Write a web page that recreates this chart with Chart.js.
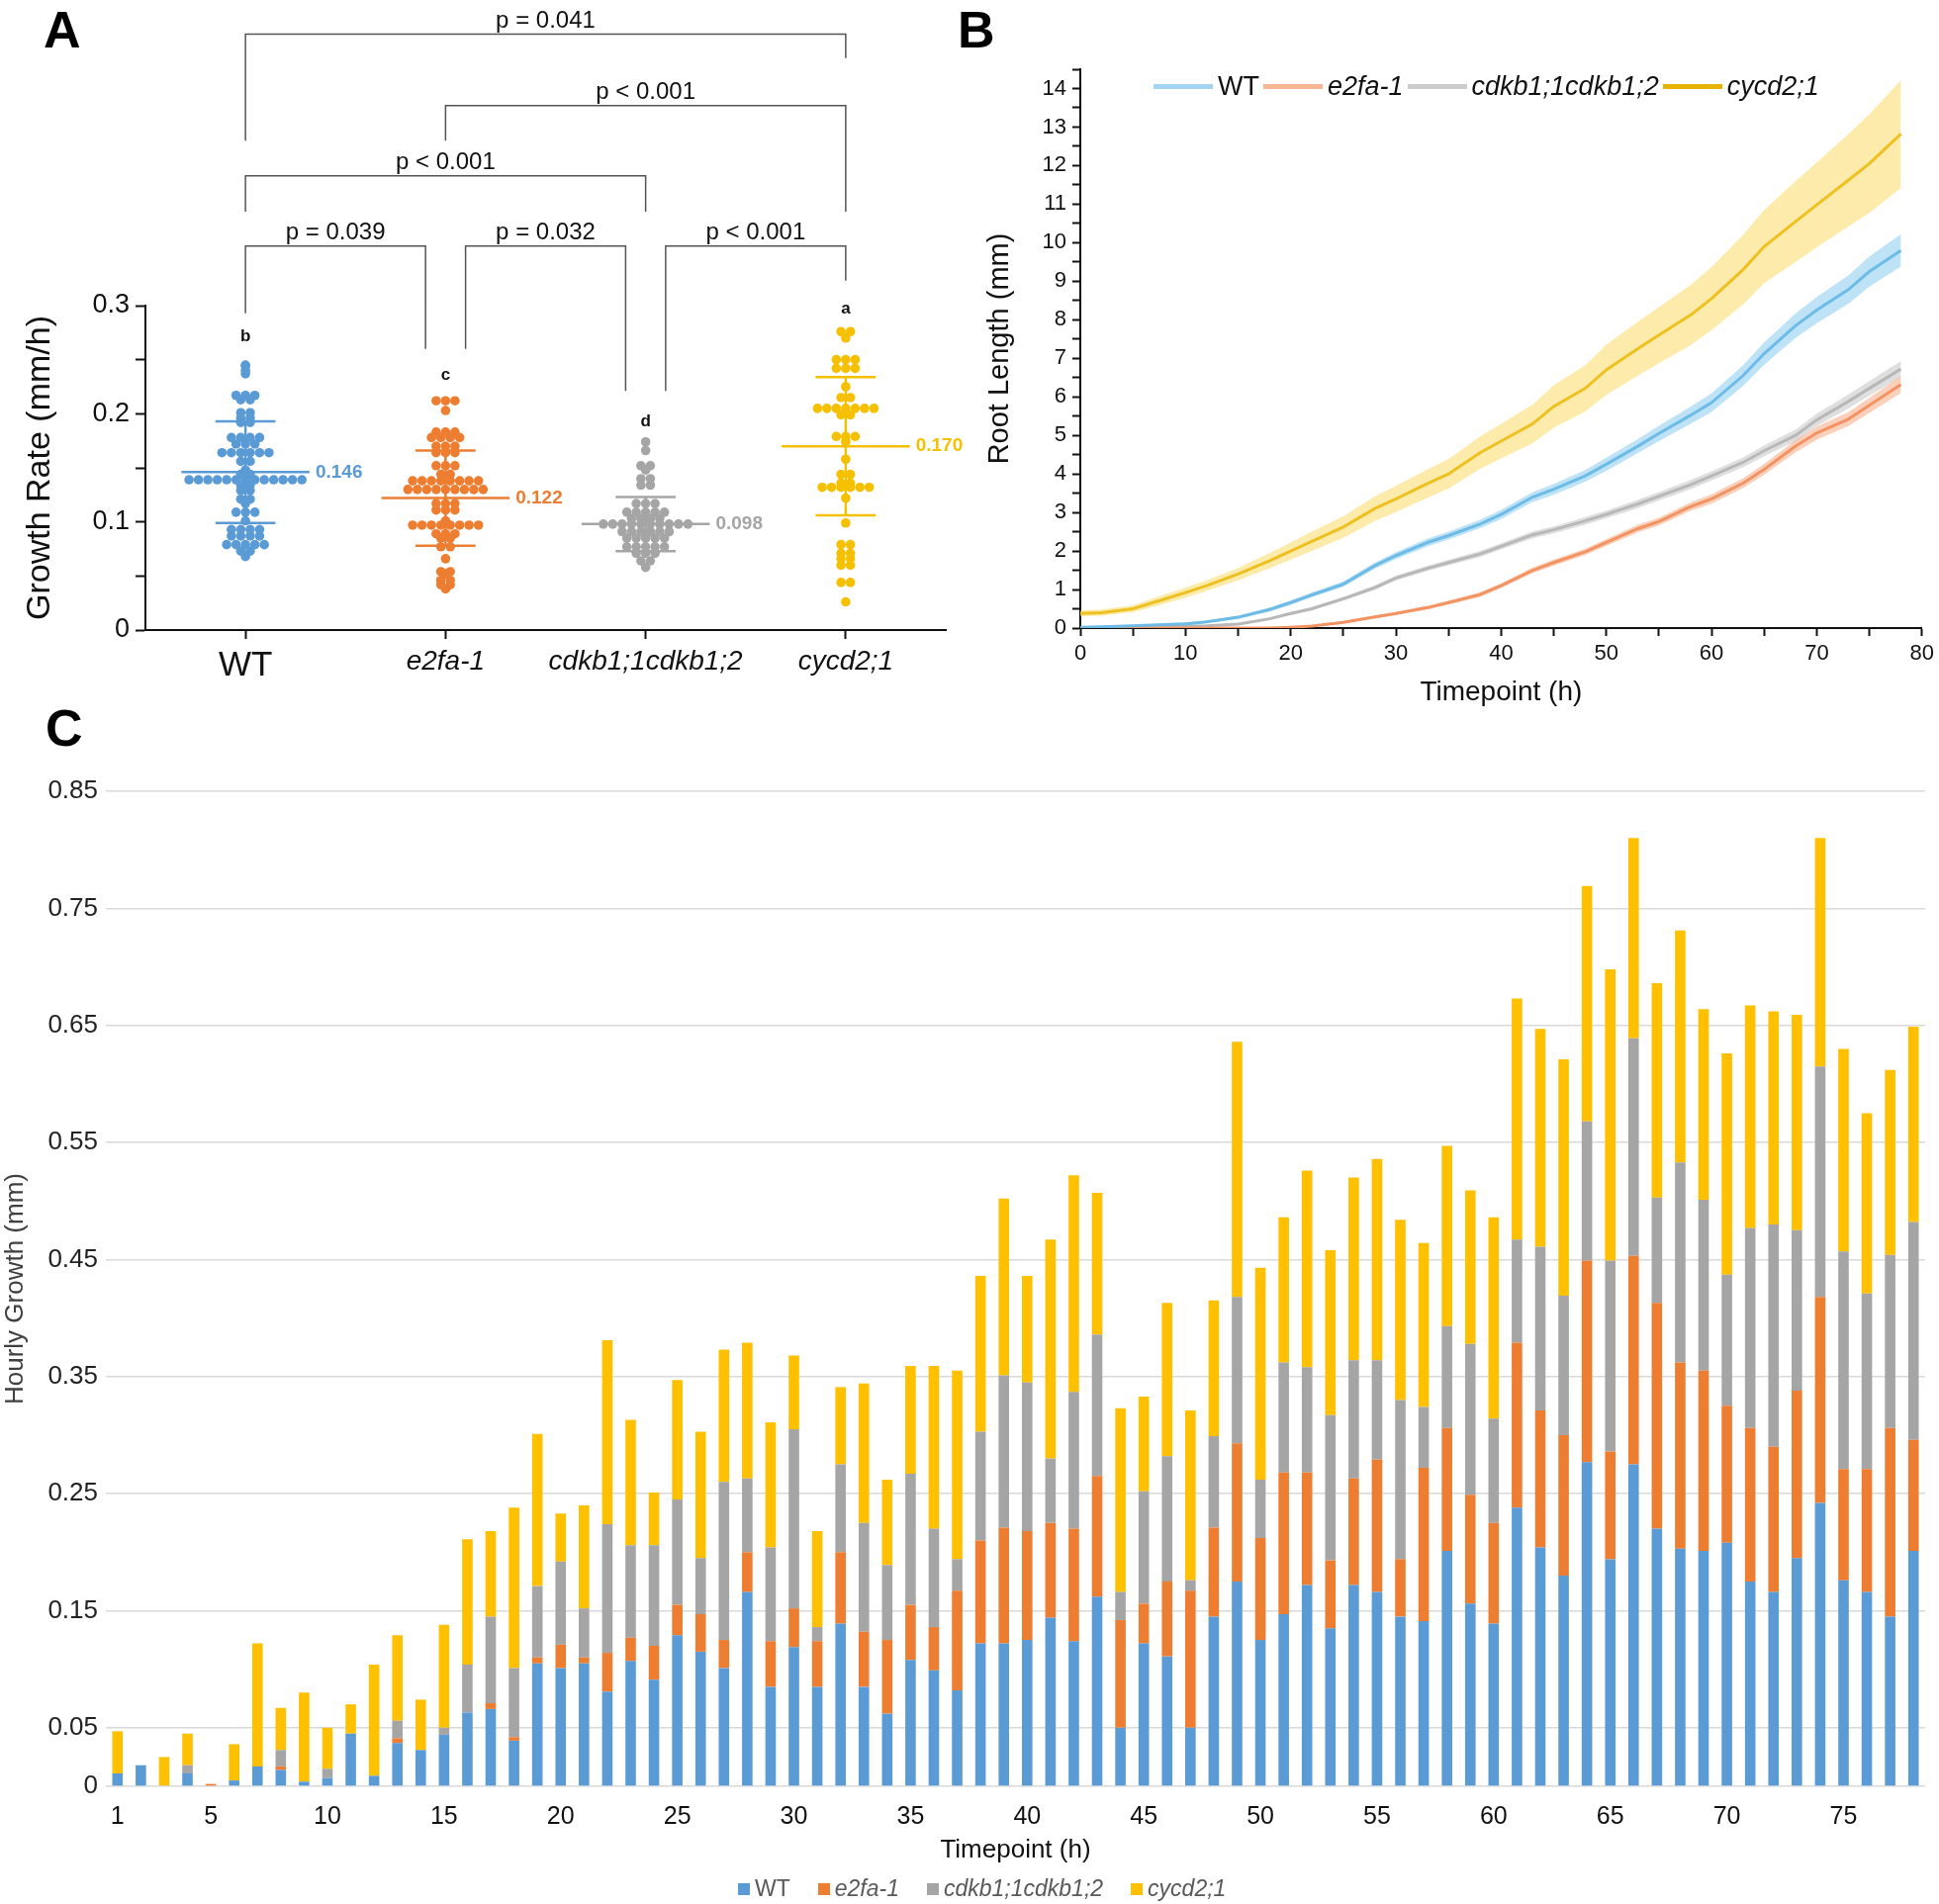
<!DOCTYPE html>
<html>
<head>
<meta charset="utf-8">
<script src="https://cdn.jsdelivr.net/npm/chart.js@4.4.1/dist/chart.umd.min.js"></script>
<style>
body { margin: 0; background: #fff; font-family: 'Liberation Sans', Arial, sans-serif; }
#page { position: relative; width: 1960px; height: 1925px; overflow: hidden; background: #fff; }
canvas { position: absolute; }
.tag { position: absolute; font-weight: bold; font-size: 52px; line-height: 1; color: #000; }
.legB { position: absolute; left: 1166px; top: 72px; display: flex; align-items: center; font-size: 27px; color: #111; }
.legB .ln { width: 60px; height: 5px; margin-right: 5px; }
.legB .tx { margin-right: 4px; }
.legC { position: absolute; left: 746px; top: 1896px; display: flex; align-items: center; font-size: 23px; color: #595959; }
.legC .sq { width: 12px; height: 12px; margin-right: 5px; }
.legC .tx { margin-right: 28px; }
i { font-style: italic; }
</style>
</head>
<body>
<div id="page">
  <div class="tag" style="left:44px;top:4px">A</div>
  <div class="tag" style="left:968px;top:4px">B</div>
  <div class="tag" style="left:46px;top:710px">C</div>

  <canvas id="chartA" width="990" height="700" style="left:0;top:0"></canvas>
  <canvas id="chartB" width="970" height="720" style="left:990px;top:0"></canvas>
  <canvas id="chartC" width="1960" height="1225" style="left:0;top:700px"></canvas>

  <div class="legB">
    <span class="ln" style="background:#a3d5f2"></span><span class="tx">WT</span>
    <span class="ln" style="background:#f8b793"></span><span class="tx"><i>e2fa-1</i></span>
    <span class="ln" style="background:#cccccc"></span><span class="tx"><i>cdkb1;1cdkb1;2</i></span>
    <span class="ln" style="background:#e6b400"></span><span class="tx"><i>cycd2;1</i></span>
  </div>

  <div class="legC">
    <span class="sq" style="background:#5b9bd5"></span><span class="tx">WT</span>
    <span class="sq" style="background:#ed7d31"></span><span class="tx"><i>e2fa-1</i></span>
    <span class="sq" style="background:#a5a5a5"></span><span class="tx"><i>cdkb1;1cdkb1;2</i></span>
    <span class="sq" style="background:#ffc000"></span><span class="tx"><i>cycd2;1</i></span>
  </div>
</div>

<script>
// ---------- panel A : growth rate per root ----------
const groups = ["WT", "e2fa-1", "cdkb1;1cdkb1;2", "cycd2;1"];

const wtRate = [0.245,0.244,0.240,0.237,0.217,0.217,0.217,0.213,0.213,0.201,0.201,0.196,0.196,0.192,0.192,
  0.178,0.178,0.178,0.178,0.172,0.172,0.172,0.164,0.164,0.164,0.164,0.164,0.164,0.156,0.156,0.148,0.144,0.144,
  0.139,0.139,0.139,0.139,0.139,0.139,0.139,0.139,0.139,0.139,0.139,0.139,0.139,0.134,0.134,0.129,0.129,
  0.121,0.121,0.117,0.109,0.109,0.109,0.101,0.093,0.093,0.093,0.093,0.087,0.087,0.087,0.087,
  0.079,0.079,0.079,0.079,0.079,0.073,0.073,0.068];
const e2faRate = [0.212,0.212,0.212,0.203,0.183,0.183,0.183,0.178,0.178,0.178,0.178,0.170,0.170,0.170,
  0.164,0.164,0.164,0.152,0.152,0.152,0.144,0.144,0.138,0.138,0.138,0.138,0.138,0.138,0.138,0.138,
  0.130,0.130,0.130,0.130,0.130,0.130,0.130,0.130,0.130,0.117,0.117,0.117,0.111,0.111,0.111,0.101,
  0.097,0.097,0.097,0.097,0.097,0.097,0.097,0.097,0.089,0.089,0.089,0.085,0.085,0.077,0.077,0.066,
  0.054,0.054,0.052,0.046,0.046,0.042,0.042,0.038];
const cdkbRate = [0.174,0.166,0.152,0.152,0.148,0.140,0.140,0.134,0.134,0.117,0.117,0.117,
  0.109,0.109,0.109,0.109,0.109,0.103,0.103,0.103,0.103,0.098,0.098,0.098,0.098,0.098,0.098,0.098,0.098,0.098,0.098,
  0.091,0.091,0.091,0.091,0.091,0.091,0.085,0.085,0.085,0.085,0.085,0.077,0.077,0.077,0.077,0.077,
  0.071,0.071,0.071,0.064,0.064,0.058];
const cycdRate = [0.276,0.276,0.270,0.250,0.250,0.250,0.242,0.242,0.242,0.225,0.215,0.215,
  0.205,0.205,0.205,0.205,0.205,0.205,0.205,0.199,0.199,0.179,0.179,0.179,0.174,0.158,0.144,0.144,
  0.136,0.136,0.132,0.132,0.132,0.132,0.132,0.132,0.122,0.099,0.079,0.079,0.071,0.071,0.066,0.066,
  0.060,0.060,0.044,0.044,0.026];

const rateMean = [0.146, 0.122, 0.098, 0.170];
const rateSd = [0.047, 0.044, 0.025, 0.064];
const groupLetters = ["b", "c", "d", "a"];
const letterLevel = [0.271, 0.236, 0.193, 0.297];

const rateTicks = [0, 0.05, 0.1, 0.15, 0.2, 0.25, 0.3];
const rateTickLabels = ["0", "", "0.1", "", "0.2", "", "0.3"];

// significance brackets (group positions and heights in data units)
const bracketText = ["p = 0.041", "p < 0.001", "p < 0.001", "p = 0.039", "p = 0.032", "p < 0.001"];
const bracketFrom = [1, 2, 1, 1, 2.1, 3.1];
const bracketTo = [4, 4, 3, 1.9, 2.9, 4];
const bracketLevel = [0.551, 0.485, 0.420, 0.355, 0.355, 0.355];
const bracketLeftEnd = [0.4525, 0.4525, 0.387, 0.293, 0.260, 0.221];
const bracketRightEnd = [0.529, 0.387, 0.387, 0.260, 0.221, 0.323];

// ---------- panel B : root length ----------
const hoursB = [0,2,5,8,10,12,15,18,20,22,25,28,30,33,35,38,40,43,45,48,50,53,55,58,60,63,65,68,70,73,75,78];
const wtLength = [0.02,0.03,0.06,0.09,0.11,0.16,0.28,0.48,0.66,0.86,1.14,1.62,1.88,2.22,2.40,2.70,2.95,3.40,3.60,3.95,4.25,4.72,5.05,5.52,5.85,6.55,7.12,7.85,8.25,8.78,9.25,9.80];
const wtLengthSe = [0.02,0.02,0.02,0.03,0.03,0.03,0.04,0.05,0.06,0.06,0.07,0.08,0.09,0.10,0.10,0.11,0.12,0.13,0.14,0.15,0.17,0.18,0.20,0.22,0.24,0.27,0.29,0.32,0.34,0.37,0.39,0.42];
const e2faLength = [0,0,0,0,0,0,0,0,0.02,0.05,0.15,0.29,0.38,0.53,0.66,0.87,1.10,1.50,1.70,1.98,2.22,2.58,2.76,3.15,3.35,3.76,4.12,4.72,5.06,5.42,5.78,6.32];
const e2faLengthSe = [0.01,0.01,0.01,0.01,0.01,0.01,0.01,0.01,0.02,0.02,0.03,0.04,0.04,0.05,0.05,0.06,0.06,0.07,0.08,0.08,0.09,0.10,0.10,0.11,0.12,0.13,0.14,0.16,0.17,0.18,0.20,0.22];
const cdkbLength = [0,0.01,0.02,0.03,0.05,0.06,0.10,0.24,0.38,0.50,0.76,1.05,1.30,1.55,1.70,1.92,2.12,2.42,2.55,2.78,2.95,3.22,3.42,3.72,3.95,4.30,4.60,5.00,5.40,5.88,6.22,6.72];
const cdkbLengthSe = [0.01,0.01,0.01,0.01,0.02,0.02,0.02,0.03,0.04,0.04,0.05,0.06,0.06,0.07,0.07,0.08,0.08,0.09,0.09,0.10,0.10,0.11,0.11,0.12,0.12,0.13,0.14,0.15,0.16,0.18,0.19,0.21];
const cycdLength = [0.38,0.40,0.50,0.75,0.92,1.10,1.40,1.75,2.00,2.25,2.62,3.10,3.35,3.75,4.00,4.55,4.85,5.30,5.75,6.22,6.70,7.25,7.60,8.12,8.55,9.30,9.90,10.55,10.98,11.62,12.05,12.82];
const cycdLengthSe = [0.08,0.08,0.09,0.12,0.13,0.14,0.16,0.20,0.22,0.25,0.28,0.32,0.34,0.37,0.38,0.42,0.45,0.50,0.55,0.60,0.65,0.70,0.73,0.78,0.82,0.90,0.95,1.05,1.10,1.20,1.28,1.40];

// ---------- panel C : hourly growth ----------
const timepoints = [1,2,3,4,5,6,7,8,9,10,11,12,13,14,15,16,17,18,19,20,21,22,23,24,25,26,27,28,29,30,
  31,32,33,34,35,36,37,38,39,40,41,42,43,44,45,46,47,48,49,50,51,52,53,54,55,56,57,58,59,60,
  61,62,63,64,65,66,67,68,69,70,71,72,73,74,75,76,77,78];
const wtGrowth = [0.011,0.018,0,0.011,0,0.005,0.017,0.014,0.004,0.007,0.045,0.009,0.037,0.031,0.044,0.063,0.066,0.039,0.105,0.101,
  0.105,0.081,0.107,0.091,0.129,0.115,0.101,0.166,0.085,0.119,0.085,0.139,0.085,0.062,0.108,0.099,0.082,0.122,0.122,0.125,
  0.144,0.124,0.162,0.050,0.122,0.111,0.050,0.145,0.175,0.125,0.147,0.172,0.135,0.172,0.166,0.145,0.141,0.201,0.156,0.139,
  0.238,0.204,0.180,0.277,0.194,0.275,0.220,0.203,0.201,0.208,0.175,0.166,0.195,0.242,0.176,0.166,0.145,0.201];
const e2faGrowth = [0,0,0,0,0.002,0,0,0.003,0,0,0,0,0.004,0,0,0,0.005,0.003,0.005,0.020,
  0.005,0.033,0.020,0.029,0.026,0.032,0.024,0.034,0.039,0.033,0.039,0.061,0.047,0.063,0.047,0.037,0.085,0.088,0.099,0.093,
  0.081,0.096,0.103,0.092,0.034,0.064,0.117,0.076,0.118,0.087,0.121,0.096,0.058,0.091,0.113,0.049,0.131,0.105,0.093,0.086,
  0.141,0.117,0.120,0.172,0.092,0.178,0.193,0.159,0.154,0.117,0.131,0.124,0.143,0.176,0.095,0.105,0.161,0.095];
const cdkbGrowth = [0,0,0,0.007,0,0,0,0.014,0,0.008,0,0,0.015,0,0.006,0.041,0.074,0.059,0.061,0.071,
  0.042,0.110,0.079,0.086,0.090,0.048,0.135,0.063,0.080,0.153,0.012,0.075,0.093,0.064,0.112,0.084,0.027,0.093,0.130,0.127,
  0.055,0.117,0.121,0.024,0.096,0.107,0.009,0.078,0.125,0.050,0.094,0.090,0.124,0.101,0.085,0.136,0.052,0.087,0.129,0.089,
  0.088,0.140,0.119,0.119,0.163,0.186,0.090,0.171,0.146,0.112,0.171,0.190,0.137,0.197,0.186,0.150,0.148,0.186];
const cycdGrowth = [0.036,0,0.025,0.027,0,0.031,0.105,0.036,0.076,0.035,0.025,0.095,0.073,0.043,0.088,0.107,0.073,0.137,0.130,0.041,
  0.088,0.157,0.107,0.045,0.102,0.108,0.113,0.116,0.107,0.063,0.082,0.066,0.119,0.073,0.092,0.139,0.161,0.133,0.151,0.091,
  0.187,0.185,0.121,0.157,0.081,0.131,0.145,0.116,0.218,0.181,0.124,0.168,0.141,0.156,0.172,0.154,0.140,0.154,0.131,0.172,
  0.206,0.186,0.202,0.201,0.249,0.171,0.183,0.198,0.163,0.189,0.190,0.182,0.184,0.195,0.173,0.154,0.158,0.167];
const growthTicks = [0, 0.05, 0.15, 0.25, 0.35, 0.45, 0.55, 0.65, 0.75, 0.85];

// ---------- shared styling ----------
const SANS = "'Liberation Sans', Arial, sans-serif";
const dotColors = ["#5b9bd5", "#ed7d31", "#a5a5a5", "#f5c000"];
const lineColors = ["#6cb9e4", "#f2915e", "#b8b8b8", "#e3b100"];
const bandColors = ["rgba(110,190,235,0.45)", "rgba(246,150,105,0.45)", "rgba(185,185,185,0.45)", "rgba(250,210,70,0.45)"];
const barColors = ["#5b9bd5", "#ed7d31", "#a5a5a5", "#ffc000"];
const dotGap = 0.047;

Chart.defaults.font.family = SANS;
Chart.defaults.color = "#111";

// place equal values side by side around the group centre
function spread(values, centre) {
  const rows = new Map();
  values.forEach(v => rows.set(v, (rows.get(v) || 0) + 1));
  const pts = [];
  rows.forEach((n, v) => {
    for (let i = 0; i < n; i++) pts.push({ x: centre + (i - (n - 1) / 2) * dotGap, y: v });
  });
  return pts;
}

function meanSdPath(g) {
  const c = g + 1, m = rateMean[g], s = rateSd[g];
  return [
    { x: c - 0.32, y: m }, { x: c + 0.32, y: m }, { x: c, y: null },
    { x: c - 0.15, y: m + s }, { x: c + 0.15, y: m + s }, { x: c, y: null },
    { x: c - 0.15, y: m - s }, { x: c + 0.15, y: m - s }, { x: c, y: null },
    { x: c, y: m - s }, { x: c, y: m + s }
  ];
}

const rateValues = [wtRate, e2faRate, cdkbRate, cycdRate];
const dsA = [];
rateValues.forEach((vals, g) => {
  dsA.push({
    type: "line", data: meanSdPath(g), showLine: true, spanGaps: false,
    borderColor: dotColors[g], borderWidth: 2.5, pointRadius: 0, order: 1
  });
  dsA.push({
    data: spread(vals, g + 1), backgroundColor: dotColors[g], borderWidth: 0,
    pointRadius: 4.8, order: 2
  });
});

const annotA = {
  id: "annotA",
  afterDraw(chart) {
    const { ctx, scales: { x, y } } = chart;
    ctx.save();
    ctx.strokeStyle = "#555";
    ctx.lineWidth = 1.5;
    ctx.fillStyle = "#111";
    ctx.font = "24px " + SANS;
    ctx.textAlign = "center";
    ctx.textBaseline = "bottom";
    bracketText.forEach((t, i) => {
      const x1 = x.getPixelForValue(bracketFrom[i]);
      const x2 = x.getPixelForValue(bracketTo[i]);
      const yl = y.getPixelForValue(bracketLevel[i]);
      ctx.beginPath();
      ctx.moveTo(x1, y.getPixelForValue(bracketLeftEnd[i]));
      ctx.lineTo(x1, yl);
      ctx.lineTo(x2, yl);
      ctx.lineTo(x2, y.getPixelForValue(bracketRightEnd[i]));
      ctx.stroke();
      ctx.fillText(t, (x1 + x2) / 2, yl - 1);
    });
    ctx.textBaseline = "middle";
    ctx.font = "bold 17px " + SANS;
    groupLetters.forEach((l, g) => {
      ctx.fillStyle = "#111";
      ctx.fillText(l, x.getPixelForValue(g + 1), y.getPixelForValue(letterLevel[g]));
    });
    ctx.textAlign = "left";
    ctx.font = "bold 19px " + SANS;
    rateMean.forEach((m, g) => {
      ctx.fillStyle = dotColors[g];
      ctx.fillText(m.toFixed(3), x.getPixelForValue(g + 1.35), y.getPixelForValue(m));
    });
    ctx.restore();
  }
};

new Chart(document.getElementById("chartA"), {
  type: "scatter",
  data: { datasets: dsA },
  plugins: [annotA],
  options: {
    responsive: false, animation: false, devicePixelRatio: 1,
    layout: { padding: { top: 309, right: 34, left: 0, bottom: 0 } },
    plugins: { legend: { display: false }, tooltip: { enabled: false } },
    scales: {
      x: {
        type: "linear", min: 0.5, max: 4.5,
        afterBuildTicks(s) { s.ticks = groups.map((_, i) => ({ value: i + 1 })); },
        afterFit(s) { s.height = 63; },
        grid: { drawOnChartArea: false, drawTicks: true, tickLength: 9, tickColor: "#111", tickWidth: 2 },
        border: { color: "#111", width: 2 },
        ticks: {
          color: "#111", padding: 6,
          callback: v => groups[v - 1],
          font: c => c.index === 0 ? { size: 35, family: SANS } : { size: 28, style: "italic", family: SANS }
        }
      },
      y: {
        min: 0, max: 0.3,
        afterBuildTicks(s) { s.ticks = rateTicks.map(v => ({ value: v })); },
        afterFit(s) { s.width = 147; },
        grid: { drawOnChartArea: false, drawTicks: true, tickLength: 10, tickColor: "#111", tickWidth: 2 },
        border: { color: "#111", width: 2 },
        ticks: {
          color: "#111", padding: 6, font: { size: 27, family: SANS },
          callback: (v, i) => rateTickLabels[i]
        },
        title: { display: true, text: "Growth Rate (mm/h)", color: "#111", font: { size: 34, family: SANS }, padding: { top: 20, bottom: 0 } }
      }
    }
  }
});

// ---------- panel B chart ----------
const lengthMeans = [wtLength, e2faLength, cdkbLength, cycdLength];
const lengthSes = [wtLengthSe, e2faLengthSe, cdkbLengthSe, cycdLengthSe];
const dsB = [];
lengthMeans.forEach((mean, s) => {
  const se = lengthSes[s];
  dsB.push({
    data: hoursB.map((h, k) => ({ x: h, y: mean[k] + se[k] })),
    borderWidth: 0, pointRadius: 0, fill: "+1", backgroundColor: bandColors[s]
  });
  dsB.push({
    data: hoursB.map((h, k) => ({ x: h, y: Math.max(0, mean[k] - se[k]) })),
    borderWidth: 0, pointRadius: 0, fill: false
  });
  dsB.push({
    label: groups[s],
    data: hoursB.map((h, k) => ({ x: h, y: mean[k] })),
    borderColor: lineColors[s], borderWidth: 3, pointRadius: 0, fill: false
  });
});

new Chart(document.getElementById("chartB"), {
  type: "line",
  data: { datasets: dsB },
  options: {
    responsive: false, animation: false, devicePixelRatio: 1,
    layout: { padding: { top: 70, right: 16, left: 0, bottom: 0 } },
    plugins: { legend: { display: false }, tooltip: { enabled: false } },
    scales: {
      x: {
        type: "linear", min: 0, max: 80,
        afterFit(s) { s.height = 85; },
        grid: { drawOnChartArea: false, drawTicks: true, tickLength: 8, tickColor: "#111", tickWidth: 2 },
        border: { color: "#111", width: 2 },
        ticks: { stepSize: 5, color: "#111", padding: 5, maxRotation: 0, autoSkip: false, font: { size: 22 },
          callback: v => v % 10 === 0 ? v : "" },
        title: { display: true, text: "Timepoint (h)", color: "#111", font: { size: 28 }, padding: { top: 0, bottom: 3 } }
      },
      y: {
        min: 0, max: 14.5,
        afterFit(s) { s.width = 102; },
        grid: { drawOnChartArea: false, drawTicks: true, tickLength: 8, tickColor: "#111", tickWidth: 2 },
        border: { color: "#111", width: 2 },
        ticks: { stepSize: 0.5, color: "#111", padding: 6, autoSkip: false, font: { size: 22 },
          callback: v => Number.isInteger(v) ? v : "" },
        title: { display: true, text: "Root Length (mm)", color: "#111", font: { size: 29 }, padding: { top: 4, bottom: 0 } }
      }
    }
  }
});

// ---------- panel C chart ----------
const growthSeries = [wtGrowth, e2faGrowth, cdkbGrowth, cycdGrowth];
new Chart(document.getElementById("chartC"), {
  type: "bar",
  data: {
    labels: timepoints,
    datasets: growthSeries.map((d, s) => ({
      label: groups[s], data: d, backgroundColor: barColors[s],
      barPercentage: 0.9, categoryPercentage: 0.5
    }))
  },
  options: {
    responsive: false, animation: false, devicePixelRatio: 1,
    layout: { padding: { top: 100, right: 14, left: 0, bottom: 35 } },
    plugins: { legend: { display: false }, tooltip: { enabled: false } },
    scales: {
      x: {
        stacked: true,
        afterFit(s) { s.height = 84; },
        grid: { display: false },
        border: { display: false },
        ticks: { autoSkip: false, maxRotation: 0, color: "#111", padding: 8, font: { size: 25 },
          callback: (v, i) => (timepoints[i] === 1 || timepoints[i] % 5 === 0) ? timepoints[i] : "" },
        title: { display: true, text: "Timepoint (h)", color: "#111", font: { size: 26 }, padding: { top: 0, bottom: 4 } }
      },
      y: {
        stacked: true, min: 0, max: 0.85,
        afterBuildTicks(s) { s.ticks = growthTicks.map(v => ({ value: v })); },
        afterFit(s) { s.width = 107; },
        grid: { color: "#d9d9d9", lineWidth: 1.5, drawTicks: false },
        border: { display: false },
        ticks: { color: "#222", padding: 8, font: { size: 26 },
          callback: v => v === 0 ? "0" : v.toFixed(2) },
        title: { display: true, text: "Hourly Growth (mm)", color: "#404040", font: { size: 26 }, padding: { top: 0, bottom: 0 } }
      }
    }
  }
});
</script>
</body>
</html>
